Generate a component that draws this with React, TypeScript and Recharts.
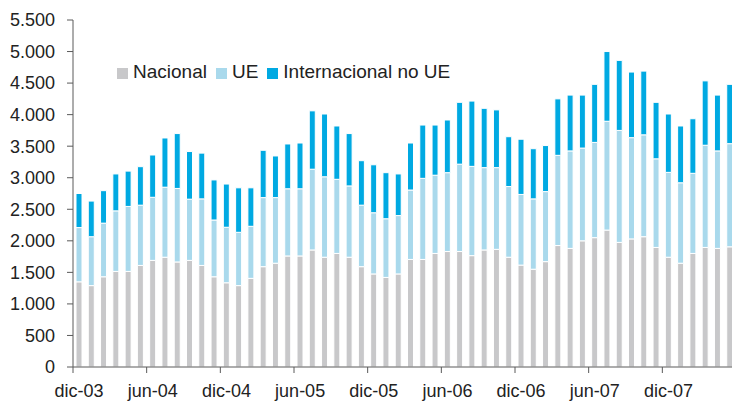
import { Bar, BarChart, Legend, XAxis, YAxis } from 'recharts';

const months = [
  'dic-03', 'ene-04', 'feb-04', 'mar-04', 'abr-04', 'may-04', 'jun-04', 'jul-04', 'ago-04', 'sep-04', 'oct-04', 'nov-04',
  'dic-04', 'ene-05', 'feb-05', 'mar-05', 'abr-05', 'may-05', 'jun-05', 'jul-05', 'ago-05', 'sep-05', 'oct-05', 'nov-05',
  'dic-05', 'ene-06', 'feb-06', 'mar-06', 'abr-06', 'may-06', 'jun-06', 'jul-06', 'ago-06', 'sep-06', 'oct-06', 'nov-06',
  'dic-06', 'ene-07', 'feb-07', 'mar-07', 'abr-07', 'may-07', 'jun-07', 'jul-07', 'ago-07', 'sep-07', 'oct-07', 'nov-07',
  'dic-07', 'ene-08', 'feb-08', 'mar-08', 'abr-08', 'may-08',
];

const nacional = [
  1350, 1290, 1430, 1515, 1515, 1610, 1690, 1740, 1665, 1690, 1610, 1430,
  1335, 1290, 1405, 1590, 1645, 1760, 1760, 1855, 1740, 1800, 1740, 1590,
  1475, 1420, 1475, 1705, 1705, 1800, 1830, 1830, 1765, 1855, 1865, 1740,
  1615, 1550, 1670, 1925, 1880, 2000, 2050, 2170, 1975, 2030, 2065, 1895,
  1740, 1645, 1800, 1895, 1880, 1905,
];

const ue = [
  860, 775, 850, 960, 1030, 955, 1000, 1110, 1165, 970, 1055, 900,
  880, 845, 825, 1095, 1040, 1065, 1065, 1280, 1275, 1175, 1130, 975,
  970, 930, 925, 1100, 1285, 1240, 1250, 1385, 1415, 1305, 1295, 1120,
  1120, 1115, 1110, 1430, 1545, 1470, 1510, 1725, 1775, 1605, 1615, 1405,
  1345, 1275, 1270, 1620, 1545, 1635,
];

const internacional = [
  540, 565, 515, 585, 560, 610, 670, 780, 870, 755, 725, 635,
  685, 705, 610, 750, 660, 710, 725, 925, 995, 845, 830, 705,
  760, 730, 660, 745, 845, 795, 835, 980, 1035, 940, 915, 790,
  875, 795, 730, 895, 885, 840, 920, 1105, 1110, 1040, 1010, 895,
  925, 900, 865, 1020, 885, 940,
];

const seriesNames = ['Nacional', 'UE', 'Internacional no UE'];

const yTicks = [0, 500, 1000, 1500, 2000, 2500, 3000, 3500, 4000, 4500, 5000, 5500];

const data = months.map((m, i) => ({
  mes: m,
  nacional: nacional[i],
  ue: ue[i],
  internacional: internacional[i],
}));

const FONT = '"Liberation Sans", Arial, Helvetica, sans-serif';
const AXIS = '#5a5a5a';
const TEXT = '#222';

const CHART_W = 736;
const Y_W = 73;
const BAND = (CHART_W - Y_W) / months.length;

const fmt = (v: number) => v.toLocaleString('de-DE');

function MonthTick(props: any) {
  const { x, y, payload, index } = props;
  const i = payload?.index ?? index;
  if (i % 6 !== 0) return null;
  const bx = x - BAND / 2;
  return (
    <g>
      <line x1={bx} x2={bx} y1={y} y2={y + 6} stroke={AXIS} strokeWidth={1} />
      <text x={x} y={y + 30} textAnchor="middle" fill={TEXT} fontSize={18} fontFamily={FONT}>
        {payload.value}
      </text>
    </g>
  );
}

function LegendBox({ payload }: any) {
  const items = [...(payload || [])].sort(
    (a: any, b: any) => seriesNames.indexOf(a.value) - seriesNames.indexOf(b.value),
  );
  return (
    <div style={{ display: 'flex', alignItems: 'center', fontFamily: FONT, fontSize: 19, color: TEXT, whiteSpace: 'nowrap' }}>
      {items.map((p: any) => (
        <span key={p.value} style={{ display: 'flex', alignItems: 'center', marginRight: 9 }}>
          <span style={{ width: 11, height: 11, background: p.color, display: 'inline-block', marginRight: 5, marginTop: 3 }} />
          {p.value}
        </span>
      ))}
    </div>
  );
}

export default function App() {
  return (
    <div style={{ position: 'absolute', left: 0, top: 0, width: 732, height: 403, overflow: 'hidden', background: '#fff' }}>
      <BarChart
        width={CHART_W}
        height={403}
        data={data}
        margin={{ top: 20, right: 0, bottom: 6, left: 0 }}
      >
        <XAxis
          dataKey="mes"
          interval={0}
          height={30}
          tickSize={0}
          tickMargin={0}
          tickLine={false}
          axisLine={{ stroke: AXIS, strokeWidth: 1 }}
          tick={<MonthTick />}
        />
        <YAxis
          width={Y_W}
          domain={[0, 5500]}
          ticks={yTicks}
          interval={0}
          tickFormatter={fmt}
          tickSize={6}
          tickMargin={12}
          axisLine={{ stroke: AXIS, strokeWidth: 1 }}
          tickLine={{ stroke: AXIS, strokeWidth: 1 }}
          tick={{ fontSize: 18, fill: TEXT, fontFamily: FONT }}
        />
        <Legend
          layout="horizontal"
          verticalAlign="middle"
          align="center"
          content={<LegendBox />}
          wrapperStyle={{ top: 61, left: 117, width: 'auto' }}
        />
        <Bar dataKey="nacional" name="Nacional" stackId="a" fill="#c8c8ca" stroke="#fff" strokeWidth={1} barSize={6} isAnimationActive={false} />
        <Bar dataKey="ue" name="UE" stackId="a" fill="#a9d9ec" stroke="#fff" strokeWidth={1} barSize={6} isAnimationActive={false} />
        <Bar dataKey="internacional" name="Internacional no UE" stackId="a" fill="#00a9e2" stroke="#fff" strokeWidth={1} barSize={6} isAnimationActive={false} />
      </BarChart>
    </div>
  );
}
